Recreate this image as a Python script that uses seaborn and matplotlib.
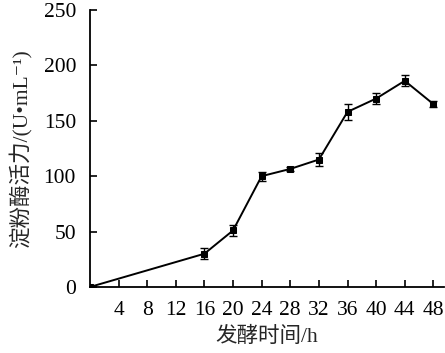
import seaborn as sns
import pandas as pd
import matplotlib.pyplot as plt

# fermentation time (h) and amylase activity (U/mL)
hours = [0, 16, 20, 24, 28, 32, 36, 40, 44, 48]
activity = [0, 30, 51, 100, 106.5, 115, 158, 170, 186, 165]
err = [0, 5, 5, 4, 2, 6, 7, 5, 5, 3]
xticks = [4, 8, 12, 16, 20, 24, 28, 32, 36, 40, 44, 48]
yticks = [0, 50, 100, 150, 200, 250]

sns.set_style("ticks")
plt.rcParams['font.family'] = ['Liberation Serif', 'Noto Sans CJK SC', 'DejaVu Sans']

df = pd.DataFrame({"hours": hours, "activity": activity, "err": err})

fig = plt.figure(figsize=(4.45, 3.53), dpi=100)
ax = fig.add_axes([0.202, 0.187, 0.796, 0.785])

ax.errorbar(df["hours"], df["activity"], yerr=df["err"], fmt="none",
            ecolor="black", elinewidth=1.0, capsize=3, capthick=1.0, zorder=2)
sns.lineplot(data=df, x="hours", y="activity", ax=ax, color="black",
             linewidth=1.4, marker="s", markersize=4.5, markeredgecolor="black",
             zorder=3)

ax.set_xlim(0, 49.5)
ax.set_ylim(0, 250)
ax.set_xticks(xticks)
ax.set_yticks(yticks)
ax.tick_params(direction="in", length=5, width=1.2, labelsize=15.5,
               colors="black")
ax.tick_params(axis="x", pad=10)
ax.tick_params(axis="y", pad=10)
for s in ["left", "bottom"]:
    ax.spines[s].set_linewidth(1.3)
    ax.spines[s].set_color("black")
sns.despine(ax=ax)

ax.set_xlabel("发酵时间/h", fontsize=15.5, labelpad=5)
ax.set_ylabel("淀粉酶活力/(U•mL⁻¹)", fontsize=15.5, labelpad=8)

fig.savefig("out.png", dpi=100)
